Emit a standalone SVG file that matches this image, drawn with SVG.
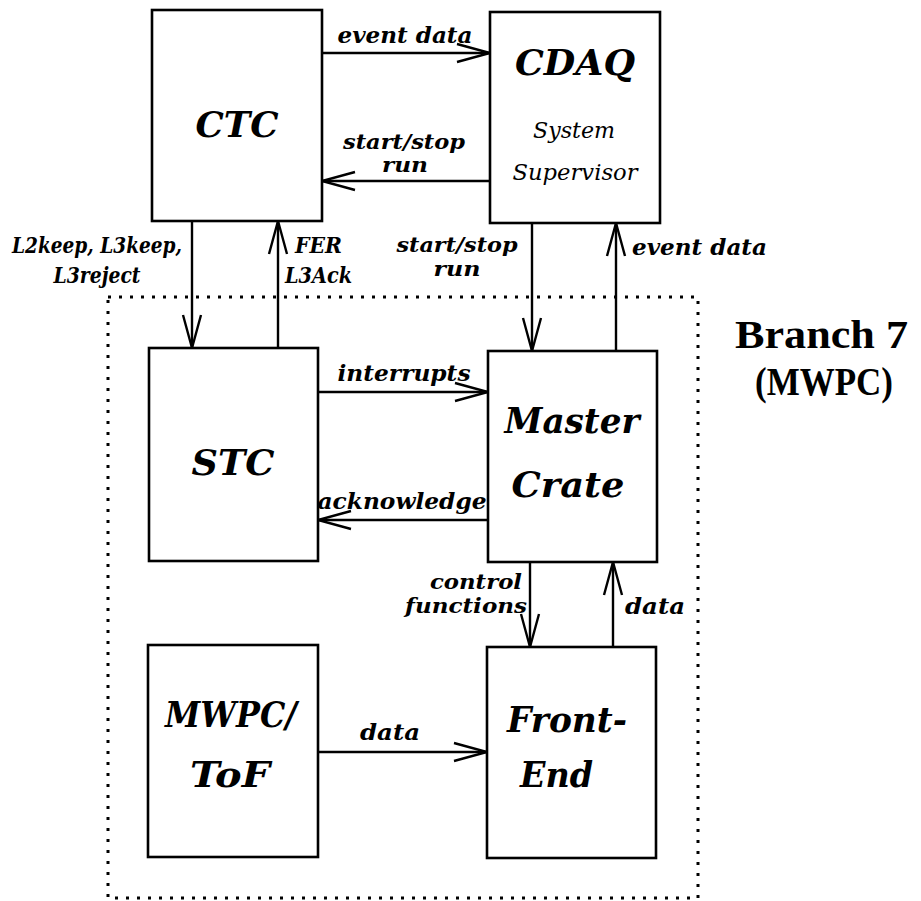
<svg xmlns="http://www.w3.org/2000/svg" width="921" height="901" viewBox="0 0 921 901">
<style>
.box{fill:#fff;stroke:#000;stroke-width:2.6}
.ln{fill:none;stroke:#000;stroke-width:2.4;marker-end:url(#ah)}
.big{font-family:"DejaVu Serif","Liberation Serif",serif;font-weight:bold;font-style:italic;font-size:36px;fill:#000}
.lbl{font-family:"DejaVu Serif","Liberation Serif",serif;font-weight:bold;font-style:italic;font-size:22px;fill:#000}
.stk{font-size:20px}
.sub{font-family:"DejaVu Serif","Liberation Serif",serif;font-style:italic;font-size:22px;fill:#000}
.br{font-family:"Liberation Serif","DejaVu Serif",serif;font-weight:bold;font-size:41px;fill:#000}
.c{text-anchor:middle}
</style>
<defs>
<marker id="ah" markerUnits="userSpaceOnUse" markerWidth="40" markerHeight="24" refX="34" refY="10" orient="auto" overflow="visible">
<path d="M1,1 L34,10 L1,19" fill="none" stroke="#000" stroke-width="2.4"/>
</marker>
</defs>
<rect x="108" y="297" width="590" height="601" fill="none" stroke="#000" stroke-width="3" stroke-dasharray="3 8"/>
<g id="connectors">
<line class="ln" x1="322" y1="53" x2="490" y2="53"/>
<line class="ln" x1="490" y1="181" x2="322" y2="181"/>
<line class="ln" x1="192" y1="221" x2="192" y2="348"/>
<line class="ln" x1="278" y1="348" x2="278" y2="221"/>
<line class="ln" x1="532" y1="223" x2="532" y2="351"/>
<line class="ln" x1="616" y1="351" x2="616" y2="223"/>
<line class="ln" x1="318" y1="392" x2="488" y2="392"/>
<line class="ln" x1="488" y1="520" x2="318" y2="520"/>
<line class="ln" x1="530" y1="562" x2="530" y2="647"/>
<line class="ln" x1="613" y1="647" x2="613" y2="562"/>
<line class="ln" x1="318" y1="752" x2="487" y2="752"/>
<text class="lbl c" x="405" y="43" textLength="135" lengthAdjust="spacingAndGlyphs">event data</text>
<text class="lbl stk c" x="404" y="149" textLength="122" lengthAdjust="spacingAndGlyphs">start/stop</text>
<text class="lbl stk c" x="405" y="172" textLength="46" lengthAdjust="spacingAndGlyphs">run</text>
<text class="lbl c" x="97" y="253" textLength="170" lengthAdjust="spacingAndGlyphs">L2keep, L3keep,</text>
<text class="lbl c" x="97" y="283" textLength="87" lengthAdjust="spacingAndGlyphs">L3reject</text>
<text class="lbl" x="295" y="253" textLength="47" lengthAdjust="spacingAndGlyphs">FER</text>
<text class="lbl" x="285" y="283" textLength="67" lengthAdjust="spacingAndGlyphs">L3Ack</text>
<text class="lbl stk c" x="457" y="252" textLength="121" lengthAdjust="spacingAndGlyphs">start/stop</text>
<text class="lbl stk c" x="457" y="276" textLength="47" lengthAdjust="spacingAndGlyphs">run</text>
<text class="lbl" x="632" y="255" textLength="135" lengthAdjust="spacingAndGlyphs">event data</text>
<text class="lbl c" x="404" y="381" textLength="133" lengthAdjust="spacingAndGlyphs">interrupts</text>
<text class="lbl c" x="402" y="509" textLength="169" lengthAdjust="spacingAndGlyphs">acknowledge</text>
<text class="lbl stk" x="430" y="589" textLength="92" lengthAdjust="spacingAndGlyphs">control</text>
<text class="lbl stk" x="405" y="613" textLength="122" lengthAdjust="spacingAndGlyphs">functions</text>
<text class="lbl" x="625" y="614" textLength="60" lengthAdjust="spacingAndGlyphs">data</text>
<text class="lbl c" x="390" y="740" textLength="60" lengthAdjust="spacingAndGlyphs">data</text>
</g>
<g id="ctc">
<rect class="box" x="152" y="10" width="170" height="211"/>
<text class="big c" x="237" y="137" textLength="83" lengthAdjust="spacingAndGlyphs">CTC</text>
</g>
<g id="cdaq">
<rect class="box" x="490" y="12" width="170" height="211"/>
<text class="big c" x="575" y="75" textLength="120" lengthAdjust="spacingAndGlyphs">CDAQ</text>
<text class="sub c" x="574" y="138" textLength="82" lengthAdjust="spacingAndGlyphs">System</text>
<text class="sub c" x="575" y="180" textLength="125" lengthAdjust="spacingAndGlyphs">Supervisor</text>
</g>
<g id="stc">
<rect class="box" x="149" y="348" width="169" height="213"/>
<text class="big c" x="233" y="475" textLength="83" lengthAdjust="spacingAndGlyphs">STC</text>
</g>
<g id="master-crate">
<rect class="box" x="488" y="351" width="169" height="211"/>
<text class="big c" x="572" y="433" textLength="135" lengthAdjust="spacingAndGlyphs">Master</text>
<text class="big c" x="568" y="497" textLength="113" lengthAdjust="spacingAndGlyphs">Crate</text>
</g>
<g id="mwpc-tof">
<rect class="box" x="148" y="645" width="170" height="212"/>
<text class="big c" x="231" y="727" textLength="132" lengthAdjust="spacingAndGlyphs">MWPC/</text>
<text class="big c" x="230" y="787" textLength="80" lengthAdjust="spacingAndGlyphs">ToF</text>
</g>
<g id="front-end">
<rect class="box" x="487" y="647" width="169" height="211"/>
<text class="big" x="507" y="732" textLength="120" lengthAdjust="spacingAndGlyphs">Front-</text>
<text class="big" x="520" y="787" textLength="73" lengthAdjust="spacingAndGlyphs">End</text>
</g>
<g id="branch-label">
<text class="br" x="735" y="348" textLength="173" lengthAdjust="spacingAndGlyphs">Branch 7</text>
<text class="br" x="755" y="395" textLength="138" lengthAdjust="spacingAndGlyphs">(MWPC)</text>
</g>
</svg>
